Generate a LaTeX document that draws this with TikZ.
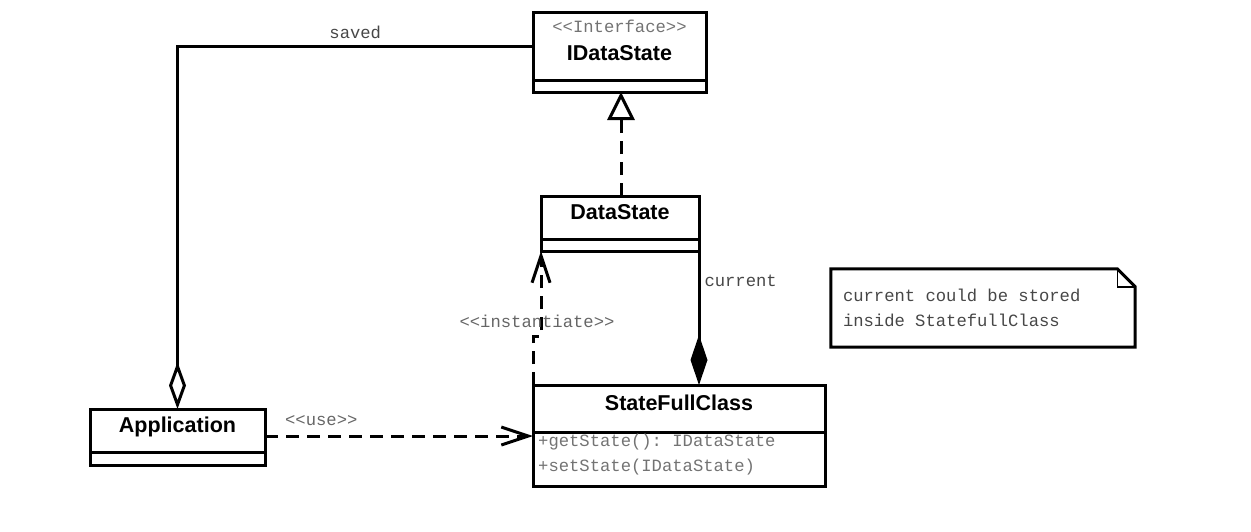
\documentclass[tikz,border=0pt]{standalone}
\usepackage{fontspec}
\newfontfamily\umlsans{Liberation Sans}
\newfontfamily\umlmono[Ligatures=TeXOff]{Liberation Mono}
\usetikzlibrary{arrows.meta}
\usetikzlibrary{positioning}

\begin{document}
\begin{tikzpicture}[x=1pt,y=-1pt]

\tikzset{class title/.style={draw, line width=3pt, outer sep=0pt,
    minimum width=#1, inner sep=0pt, align=center, text depth=12pt,
    font=\umlsans\bfseries\fontsize{21.5pt}{26pt}\selectfont
  },
  class body/.style={draw, line width=3pt, outer sep=0pt,
    minimum width=#1, inner sep=0pt
  },
  mono text/.style={font=\umlmono\fontsize{17.2pt}{25pt}\selectfont\frenchspacing, text=black!#1},
  mono text/.default=72,
  uml line/.style={line width=3pt},
  uml dashed/.style={line width=3pt, dash pattern=on 13pt off 8pt},
  open barb/.style={-{Straight Barb[length=27pt,width=18pt,line width=3pt]}}
}
\useasboundingbox (0,0) rectangle (1251,531);

\node[class title=173, minimum height=68] (idatastate) at (619.5,46)
  {{\umlmono\mdseries\fontsize{17.2pt}{20pt}\selectfont\color{black!55}<<Interface>>}\\[2pt]IDataState};
\node[class body=173, minimum height=12, below=0pt of idatastate] (idatastate body) {};

\node[class title=158, minimum height=43] (datastate) at (620,217.5) {DataState};
\node[class body=158, minimum height=12, below=0pt of datastate] (datastate body) {};

\node[class title=292, minimum height=47] (statefull) at (679,408.5) {StateFullClass};
\node[class body=292, minimum height=54, below=0pt of statefull] (statefull body) {};
\node[anchor=north west, inner sep=0pt, text width=282, align=flush left, mono text=55]
  (statefull methods) at ([xshift=5pt,yshift=-2pt]statefull body.north west)
  {+getState(): IDataState\\+setState(IDataState)};

\node[class title=175, minimum height=43] (application) at (177.5,430.5) {Application};
\node[class body=175, minimum height=13, below=0pt of application] (application body) {};

\node[minimum width=304, minimum height=78, inner xsep=12pt, text width=280,
  align=flush left, mono text] (note) at (983,308)
  {current could be stored\\inside StatefullClass};
\draw[uml line] (note.north west) -- ([xshift=-18pt]note.north east)
  -- ([yshift=-18pt]note.north east) -- (note.south east) -- (note.south west) -- cycle;
\draw[line width=1.4pt] ([xshift=-18pt]note.north east) |- ([yshift=-18pt]note.north east);

\draw[uml line, {Diamond[open,length=47pt,width=17pt,line width=3pt]}-]
  (application.north) |- (idatastate.west) node[pos=0.75, above, inner sep=6pt, mono text]{saved};
\draw[uml dashed, -{Triangle[open,length=28pt,width=27pt,line width=3pt]}]
  ([xshift=1pt]datastate.north) -- ([xshift=1pt]datastate.north |- idatastate body.south);
\draw[uml line, -{Diamond[length=50pt,width=17pt]}]
  (datastate body.south east) -- (datastate body.south east |- statefull.north)
  node[pos=0.22, right, inner sep=4pt, mono text]{current};
\draw[uml dashed, open barb] (statefull.north west) -- ++(0,-49)
  node[above=7pt, xshift=4pt, inner sep=0pt, mono text=60]{<<instantiate>>}
  -| (datastate body.south west);
\draw[uml dashed, open barb] ([yshift=-5.5pt]application.east)
  -- ([yshift=-5.5pt]application.east -| statefull.west)
  node[pos=0.21, above, inner sep=9pt, mono text=60]{<<use>>};

\end{tikzpicture}
\end{document}
